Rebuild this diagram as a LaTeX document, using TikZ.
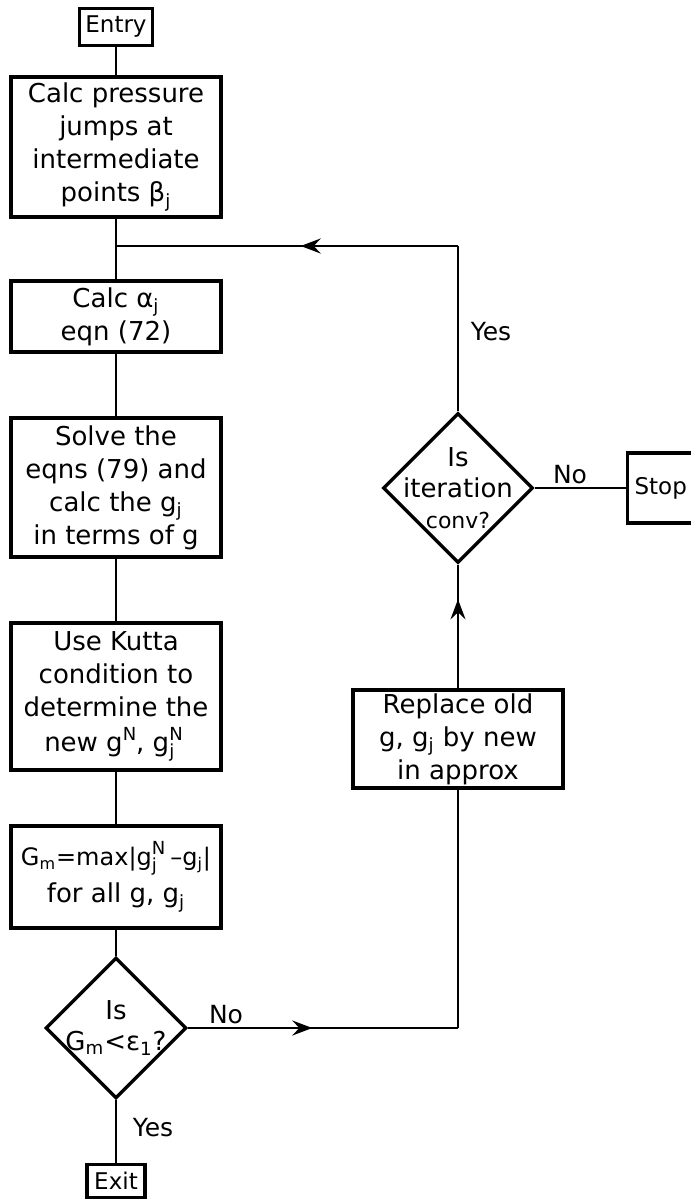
\documentclass[tikz,border=0pt]{standalone}
\usepackage{fontspec}
\setmainfont{DejaVu Sans}
\usepackage{tikz}
\usetikzlibrary{positioning, arrows.meta, shapes.geometric, decorations.markings}
\newcommand{\idxfont}{\fontsize{9}{9}\selectfont}
\newcommand{\gjN}{g\rlap{\raisebox{5.5pt}{\idxfont N}}\raisebox{-3pt}{\idxfont j}\hphantom{\idxfont N}}
\tikzset{
    terminal/.style={rectangle, draw=black, line width=1.7pt, fill=white, align=center, inner sep=1pt, font=\fontsize{11.5}{13}\selectfont},
    process/.style={rectangle, draw=black, line width=1.7pt, fill=white, align=center, minimum width=105pt, inner sep=1pt, font=\fontsize{13}{16.5}\selectfont},
    decision/.style={diamond, draw=black, line width=1.7pt, fill=white, aspect=1, inner sep=0pt},
    decisiontext/.style={align=center, inner sep=0pt, font=\fontsize{13}{15.5}\selectfont},
    answer/.style={inner sep=0pt, font=\fontsize{12.5}{14}\selectfont},
    connect/.style={line width=1.3pt},
    midarrow/.style={connect, postaction={decorate}, decoration={markings, mark=at position #1 with {\arrow{Stealth[length=10pt, width=7.5pt, inset=3.5pt]}}}}
}

\begin{document}
\begin{tikzpicture}[x=0.5pt, y=-0.5pt]

    \useasboundingbox (0,0) rectangle (691,1200);

    % --- MAIN COLUMN (Left Side) ---

    % Entry
    \node[terminal, minimum width=36.5pt, minimum height=18.5pt] (entry) at (116,27) {Entry};

    % Pressure jumps
    \node[process, minimum height=70pt] (jumps) at (116,147) {Calc pressure\\jumps at\\intermediate\\points β\textsubscript{j}};

    % Alpha
    \node[process, minimum height=35.5pt] (alpha) at (116,316.5) {Calc α\textsubscript{j}\\eqn (72)};

    % Solve
    \node[process, minimum height=69.5pt] (solve) at (116,487.5) {Solve the\\eqns (79) and\\calc the g\textsubscript{j}\\in terms of g};

    % Kutta condition
    \node[process, minimum height=73.5pt] (kutta) at (116,696.5) {Use Kutta\\condition to\\determine the\\[1pt]new g\raisebox{5.5pt}{\idxfont N}, \gjN};

    % Max difference
    \node[process, minimum height=51pt] (maxdiff) at (116,877) {{\fontsize{12}{14}\selectfont G\textsubscript{m}=max|\gjN{}–g\textsubscript{j}|}\\[2pt]for all g, g\textsubscript{j}};

    % Test
    \node[decision, minimum size=70.5pt] (small) at (116,1028) {};
    \node[decisiontext] (smalltxt) at (small) {Is\\G\textsubscript{m}<ε\textsubscript{1}?};

    % Exit
    \node[terminal, minimum width=29pt, minimum height=16.5pt] (exit) at (116,1181) {Exit};

    \draw[connect] (entry) -- (jumps);
    \draw[connect] (jumps) -- (alpha);
    \draw[connect] (alpha) -- (solve);
    \draw[connect] (solve) -- (kutta);
    \draw[connect] (kutta) -- (maxdiff);
    \draw[connect] (maxdiff) -- (small);
    \draw[connect] (small) -- (exit);


    % --- ITERATION LOOP (Right Side) ---

    % Convergence test
    \node[decision, minimum size=75pt] (conv) at (458,488) {};
    \node[decisiontext] (convtxt) at (conv) {Is\\iteration\\{\fontsize{11}{12}\selectfont conv?}};

    % Stop
    \node[terminal, minimum width=39pt, minimum height=35pt, anchor=west] (stop) at (626,488) {\hspace{-6pt}Stop};

    % Replace
    \node[process, minimum height=49pt] (replace) at (458,739) {Replace old\\g, g\textsubscript{j} by new\\in approx};

    % Corners of the loop
    \coordinate (join) at (116,246);
    \coordinate (corner) at (458,246);
    \coordinate (turn) at (458,1028);

    \draw[connect] (conv) -- (corner);
    \draw[midarrow=0.46] (corner) -- (join);
    \draw[connect] (conv) -- (stop);
    \draw[midarrow=0.72] (replace) -- (conv);
    \draw[midarrow=0.46] (small) -- (turn);
    \draw[connect] (turn) -- (replace);

    % Annotations
    \node[answer] (yes1) at (491,332) {Yes};
    \node[answer] (no1) at (570,475) {No};
    \node[answer] (no2) at (226,1015) {No};
    \node[answer] (yes2) at (153,1128) {Yes};

\end{tikzpicture}
\end{document}
